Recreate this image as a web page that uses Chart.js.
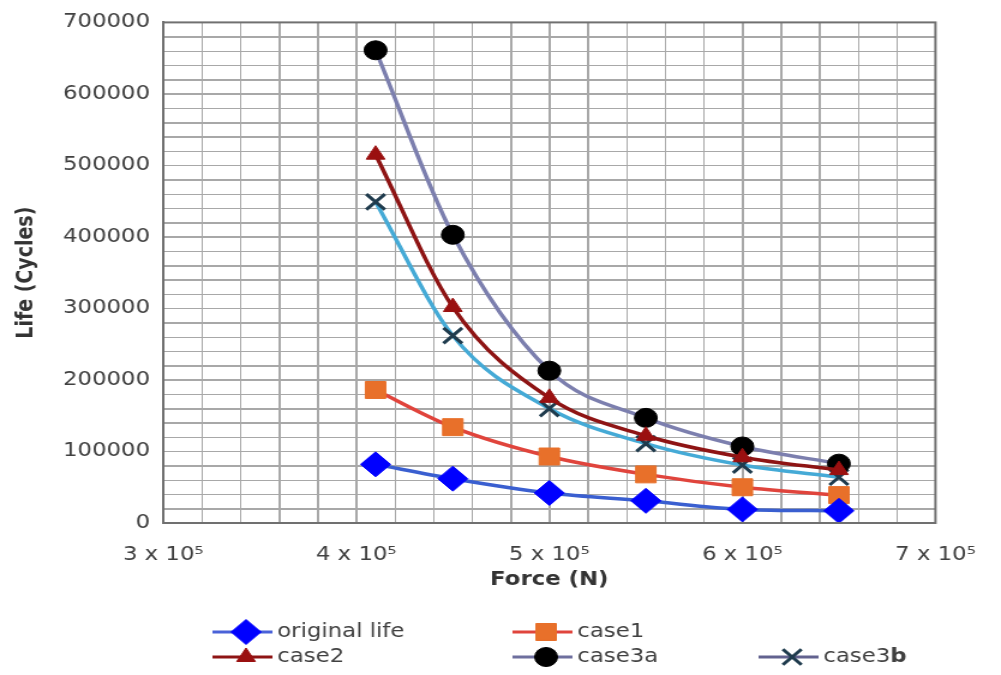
<!DOCTYPE html>
<html>
<head>
<meta charset="utf-8">
<script src="https://cdn.jsdelivr.net/npm/chart.js@4.4.1/dist/chart.umd.min.js"></script>
<style>
  html, body { margin: 0; padding: 0; background: #fff; overflow: hidden; }
  #wrap { width: 834px; height: 675px; transform: scaleX(1.2002); transform-origin: 0 0; }
</style>
</head>
<body>
<div id="wrap"><canvas id="lifeChart" width="834" height="675"></canvas></div>
<script>
// Force (N) vs fatigue life (cycles)
const forces = [410000, 450000, 500000, 550000, 600000, 650000];
const originalLife = [82000, 62000, 42000, 31000, 19000, 17000];
const case1 = [186000, 134000, 93000, 68000, 50000, 39000];
const case2 = [515000, 302000, 175000, 122000, 92000, 74000];
const case3a = [661000, 403000, 213000, 147000, 107000, 83000];
const case3b = [449000, 262000, 160000, 111000, 81000, 64000];

const FONT = 'DejaVu Sans';
const GRID_STEP = 20000;

function points(values) {
    return forces.map((f, i) => ({ x: f, y: values[i] }));
}

const series = [
    { label: 'original life', data: originalLife, line: '#3a5fd0', fill: '#0000ff', style: 'rectRot', r: 12.5, legendLine: '#4a62d8' },
    { label: 'case1', data: case1, line: '#e0443c', fill: '#e8702a', style: 'rect', r: 12, legendLine: '#e0443c' },
    { label: 'case2', data: case2, line: '#8e1414', fill: '#9a1010', style: 'triangle', r: 9, legendLine: '#8e1414' },
    { label: 'case3a', data: case3a, line: '#7c7fae', fill: '#000000', style: 'circle', r: 9.5, legendLine: '#6e6f9e' },
    { label: 'case3b', data: case3b, line: '#45aad6', fill: '#1f3b4d', style: 'crossRot', r: 11, legendLine: '#62628f' }
];

// legend grid: [column, row]
const legendSlots = [[0, 0], [1, 0], [0, 1], [1, 1], [2, 1]];
const legendCols = [177, 427, 632];
const legendRows = [632, 657];

// fine grid every 20000 on both axes, then the dark frame on top
const frame = {
    id: 'frame',
    beforeDatasetsDraw(chart) {
        const { ctx, chartArea: a, scales: { x, y } } = chart;
        ctx.save();
        ctx.strokeStyle = '#a8a8a8';
        ctx.lineWidth = 1;
        ctx.beginPath();
        for (let v = y.min; v <= y.max; v += GRID_STEP) {
            const py = Math.round(y.getPixelForValue(v)) + 0.5;
            ctx.moveTo(a.left, py);
            ctx.lineTo(a.right, py);
        }
        for (let v = x.min; v <= x.max; v += GRID_STEP) {
            const px = Math.round(x.getPixelForValue(v)) + 0.5;
            ctx.moveTo(px, a.top);
            ctx.lineTo(px, a.bottom);
        }
        ctx.stroke();
        ctx.restore();
    },
    afterDatasetsDraw(chart) {
        const { ctx, chartArea: a } = chart;
        ctx.save();
        ctx.strokeStyle = '#707070';
        ctx.lineWidth = 2;
        ctx.strokeRect(a.left, a.top, a.right - a.left, a.bottom - a.top);
        ctx.restore();
    }
};

const gridLegend = {
    id: 'gridLegend',
    afterDraw(chart) {
        const ctx = chart.ctx;
        ctx.save();
        series.forEach((s, i) => {
            const x = legendCols[legendSlots[i][0]];
            const y = legendRows[legendSlots[i][1]];
            ctx.strokeStyle = s.legendLine;
            ctx.lineWidth = 3;
            ctx.beginPath();
            ctx.moveTo(x, y);
            ctx.lineTo(x + 50, y);
            ctx.stroke();
            ctx.fillStyle = s.fill;
            ctx.strokeStyle = s.fill;
            ctx.lineWidth = s.style === 'crossRot' ? 3 : 1;
            Chart.helpers.drawPoint(ctx, { pointStyle: s.style, radius: s.r, borderWidth: ctx.lineWidth, rotation: 0 }, x + 28, y);
            ctx.fillStyle = '#404040';
            ctx.textBaseline = 'middle';
            ctx.font = '19px ' + FONT;
            if (s.label === 'case3b') {
                ctx.fillText('case3', x + 54, y);
                const w = ctx.measureText('case3').width;
                ctx.font = 'bold 19px ' + FONT;
                ctx.fillText('b', x + 54 + w, y);
            } else {
                ctx.fillText(s.label, x + 54, y);
            }
        });
        ctx.restore();
    }
};

new Chart(document.getElementById('lifeChart'), {
    type: 'line',
    data: {
        datasets: series.map(s => ({
            label: s.label,
            data: points(s.data),
            borderColor: s.line,
            borderWidth: 3.5,
            backgroundColor: s.fill,
            pointBackgroundColor: s.fill,
            pointBorderColor: s.fill,
            pointBorderWidth: s.style === 'crossRot' ? 3 : 1,
            pointStyle: s.style,
            pointRadius: s.r,
            cubicInterpolationMode: 'monotone',
            fill: false
        }))
    },
    options: {
        responsive: false,
        animation: false,
        layout: { padding: { left: 0, right: 44, top: 20, bottom: 72 } },
        plugins: {
            legend: { display: false },
            tooltip: { enabled: false }
        },
        scales: {
            x: {
                type: 'linear',
                min: 300000,
                max: 700000,
                afterFit: scale => { scale.height = 80; },
                grid: { color: '#a8a8a8', lineWidth: 1, drawTicks: false },
                border: { color: '#707070', width: 2 },
                ticks: {
                    stepSize: GRID_STEP,
                    maxTicksLimit: 100,
                    autoSkip: false,
                    maxRotation: 0,
                    padding: 21,
                    color: '#404040',
                    font: { family: FONT, size: 19 },
                    callback: v => v % 100000 === 0 ? (v / 100000) + ' x 10\u2075' : ''
                },
                title: {
                    display: true,
                    text: 'Force (N)',
                    color: '#333',
                    padding: { top: 0, bottom: 12 },
                    font: { family: FONT, size: 19, weight: 'bold' }
                }
            },
            y: {
                min: 0,
                max: 700000,
                afterFit: scale => { scale.width = 136; },
                grid: { color: '#a8a8a8', lineWidth: 1, drawTicks: false },
                border: { color: '#707070', width: 2 },
                ticks: {
                    stepSize: GRID_STEP,
                    maxTicksLimit: 100,
                    autoSkip: false,
                    padding: 11,
                    color: '#404040',
                    font: { family: FONT, size: 19 },
                    callback: v => v % 100000 === 0 ? String(v) : ''
                },
                title: {
                    display: true,
                    text: 'Life (Cycles)',
                    color: '#333',
                    padding: { top: 11, bottom: 0 },
                    font: { family: FONT, size: 19, weight: 'bold' }
                }
            }
        }
    },
    plugins: [frame, gridLegend]
});
</script>
</body>
</html>
